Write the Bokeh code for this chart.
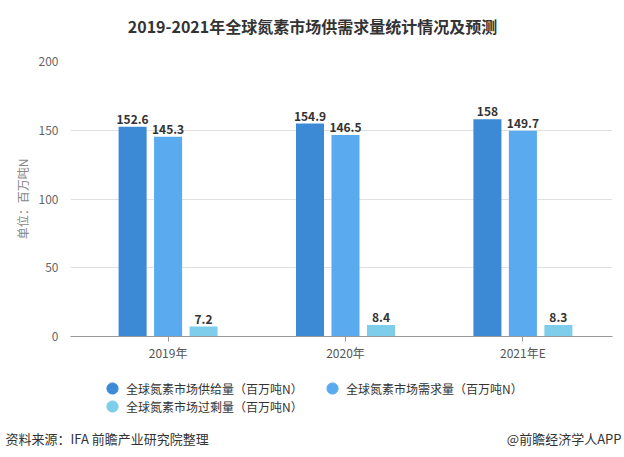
from bokeh.plotting import figure
from bokeh.models import Range1d, FixedTicker, Label, Legend, LegendItem, ColumnDataSource
from bokeh.layouts import column, row
from bokeh.core.properties import value
from bokeh.embed import file_html
from bokeh.resources import INLINE

categories = ["2019年", "2020年", "2021年E"]
supply = [152.6, 154.9, 158]
demand = [145.3, 146.5, 149.7]
surplus = [7.2, 8.4, 8.3]
series_names = ["全球氮素市场供给量（百万吨N）", "全球氮素市场需求量（百万吨N）", "全球氮素市场过剩量（百万吨N）"]
colors = ["#3C89D6", "#5AAAF0", "#7DCDEB"]
y_ticks = [0, 50, 100, 150, 200]
title_text = "2019-2021年全球氮素市场供需求量统计情况及预测"
y_label = "单位：百万吨N"
source_text = "资料来源：IFA 前瞻产业研究院整理"
brand_text = "@前瞻经济学人APP"

FONT = "Noto Sans CJK SC"
W = 624
FL = 0   # frame left edge of the strip figures

def blank_fig(h):
    f = figure(width=W, height=h, output_backend="svg", toolbar_location=None,
               x_range=Range1d(0, 1), y_range=Range1d(0, 1),
               x_axis_location=None, y_axis_location=None,
               min_border_left=0, min_border_right=0, min_border_top=0, min_border_bottom=0)
    f.grid.visible = False
    f.outline_line_color = None
    return f

# ---- title strip
top = blank_fig(51)
top.add_layout(Label(x=312 - FL, y=26, x_units="screen", y_units="screen", text=title_text,
                     text_align="center", text_baseline="middle", text_font=FONT,
                     text_font_size="16px", text_font_style="bold", text_color="#333333"))

# ---- main chart
p = figure(width=W, height=315, output_backend="svg", toolbar_location=None,
           x_range=Range1d(-0.55, 2.505), y_range=Range1d(0, 200),
           min_border_left=70, min_border_right=12, min_border_top=10, min_border_bottom=30)
p.outline_line_color = None

xs = list(range(len(categories)))
offsets = [-0.2, 0.0, 0.2]
bw = 0.158
for vals, off, c in zip([supply, demand, surplus], offsets, colors):
    src = ColumnDataSource(dict(x=[i + off for i in xs], top=vals,
                                lab=[f"{v:g}" for v in vals]))
    p.vbar(x="x", top="top", width=bw, source=src, color=c, line_color=None)
    p.text(x="x", y="top", text="lab", source=src, text_align="center", text_baseline="bottom",
           y_offset=-3, text_font=value(FONT), text_font_size="12px", text_font_style="bold",
           text_color="#333333")

p.xaxis.ticker = FixedTicker(ticks=xs)
p.xaxis.major_label_overrides = {i: c for i, c in enumerate(categories)}
p.xaxis.axis_line_color = "#999999"
p.xaxis.major_tick_line_color = "#999999"
p.xaxis.major_tick_out = 5
p.xaxis.major_tick_in = 0
p.xaxis.minor_tick_line_color = None
p.xaxis.major_label_text_font = FONT
p.xaxis.major_label_text_font_size = "12px"
p.xaxis.major_label_text_color = "#555555"
p.xaxis.major_label_standoff = 2
p.xgrid.grid_line_color = None

p.yaxis.ticker = FixedTicker(ticks=y_ticks)
p.yaxis.axis_line_color = None
p.yaxis.major_tick_line_color = None
p.yaxis.minor_tick_line_color = None
p.yaxis.major_label_text_font = FONT
p.yaxis.major_label_text_font_size = "12px"
p.yaxis.major_label_text_color = "#666666"
p.yaxis.major_label_standoff = 6
p.yaxis.axis_label = y_label
p.yaxis.axis_label_text_font = FONT
p.yaxis.axis_label_text_font_size = "12px"
p.yaxis.axis_label_text_font_style = "normal"
p.yaxis.axis_label_text_color = "#888888"
p.yaxis.axis_label_standoff = 5
p.ygrid.grid_line_color = "#e0e0e0"

# ---- legend + footer strip
bot = blank_fig(91)
# legend proxies: one point each, outside the visible range
rs = [bot.scatter(x=[-10], y=[-10], marker="circle", color=c) for c in colors]
for name, r, loc in zip(series_names, rs, [(98 - FL, 55), (318 - FL, 55), (98 - FL, 37)]):
    bot.add_layout(Legend(items=[LegendItem(label=name, renderers=[r])], location=loc,
                          background_fill_alpha=0, border_line_color=None, padding=0, margin=0,
                          glyph_width=28, glyph_height=28, label_standoff=0, label_height=28,
                          label_text_font=FONT, label_text_font_size="12px",
                          label_text_color="#333333"))
bot.add_layout(Label(x=5 - FL, y=19, x_units="screen", y_units="screen", text=source_text,
                     text_align="left", text_baseline="middle", text_font=FONT,
                     text_font_size="13px", text_color="#333333"))
bot.add_layout(Label(x=621 - FL, y=19, x_units="screen", y_units="screen", text=brand_text,
                     text_align="right", text_baseline="middle", text_font=FONT,
                     text_font_size="13px", text_color="#333333"))

layout = column(top, row(p, spacing=0), bot, spacing=0)
open("out.html", "w").write(file_html(layout, INLINE))
